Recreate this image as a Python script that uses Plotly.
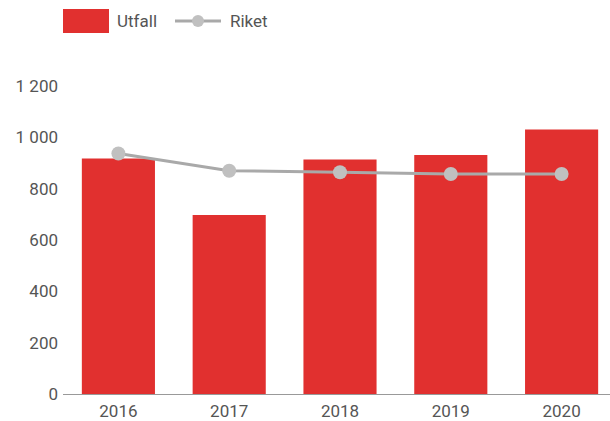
import plotly.graph_objects as go

years = ["2016", "2017", "2018", "2019", "2020"]
utfall = [918, 697, 914, 931, 1031]
riket = [937, 870, 864, 857, 857]
y_ticks = [0, 200, 400, 600, 800, 1000, 1200]

BAR_COLOR = "#e1302f"
LINE_COLOR = "#a9a9a9"
MARKER_COLOR = "#c0c0c0"
TEXT_COLOR = "#555555"

fig = go.Figure()
fig.add_trace(go.Bar(x=years, y=utfall, name="Utfall", marker_color=BAR_COLOR,
                     marker_line_width=0, width=0.66))
fig.add_trace(go.Scatter(x=years, y=riket, name="Riket", mode="lines+markers",
                         line=dict(color=LINE_COLOR, width=3),
                         marker=dict(color=MARKER_COLOR, size=14)))

# custom legend (paper coordinates relative to plot area)
FIG_W = 617
L, R, T, B = 63.0, 0.0, 86.0, 27.0
W = FIG_W - L - R
H = 421 - T - B
def px(x):
    return (x - L) / W
def py(y):
    return (T + H - y) / H

shapes = [
    dict(type="rect", xref="paper", yref="paper", x0=px(63), x1=px(109), y0=py(33), y1=py(9),
         fillcolor=BAR_COLOR, line_width=0),
    dict(type="line", xref="paper", yref="paper", x0=px(175), x1=px(221), y0=py(21), y1=py(21),
         line=dict(color=LINE_COLOR, width=3)),
    dict(type="circle", xref="paper", yref="paper", x0=px(192), x1=px(204), y0=py(27), y1=py(15),
         fillcolor=MARKER_COLOR, line_width=0),
]
annotations = [
    dict(text="Utfall", xref="paper", yref="paper", x=px(115), y=py(21), xanchor="left",
         yanchor="middle", showarrow=False, font=dict(size=17, color=TEXT_COLOR)),
    dict(text="Riket", xref="paper", yref="paper", x=px(228), y=py(21), xanchor="left",
         yanchor="middle", showarrow=False, font=dict(size=17, color=TEXT_COLOR)),
]

fig.update_layout(
    width=FIG_W, height=421,
    margin=dict(l=L, r=R, t=T, b=B),
    plot_bgcolor="white", paper_bgcolor="white",
    separators=", ",
    font=dict(family="Roboto", size=17, color=TEXT_COLOR),
    showlegend=False,
    shapes=shapes,
    annotations=annotations,
    bargap=0.34,
)
fig.update_xaxes(showline=True, linecolor="#999999", linewidth=1, ticks="",
                 ticklabelstandoff=2,
                 tickfont=dict(size=17, color=TEXT_COLOR))
fig.update_yaxes(range=[0, 1200], tickvals=y_ticks, showgrid=False, zeroline=False,
                 showline=False, tickformat=",d", ticklabelstandoff=4,
                 tickfont=dict(size=17, color=TEXT_COLOR))

fig.write_html("out.html", config={"displayModeBar": False},
               post_script="document.body.style.margin='0';document.body.style.overflow='hidden';")
